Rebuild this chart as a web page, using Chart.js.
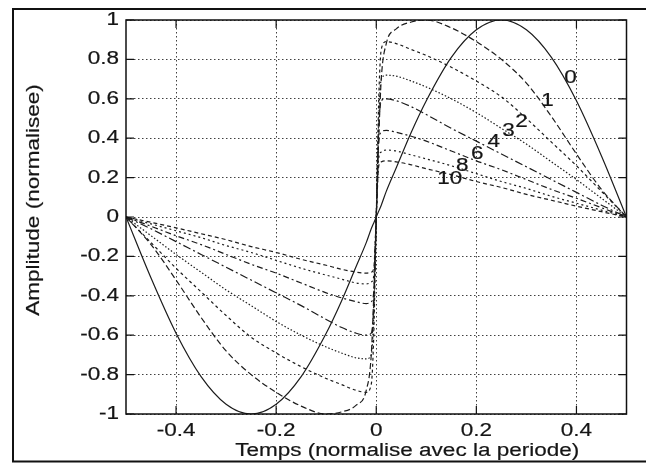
<!DOCTYPE html>
<html>
<head>
<meta charset="utf-8">
<script src="https://cdn.jsdelivr.net/npm/chart.js@4.4.0/dist/chart.umd.min.js"></script>
<style>
  html, body { margin: 0; padding: 0; background: #fff; }
</style>
</head>
<body>
<canvas id="c" width="648" height="463"></canvas>
<script>
// time, normalised with the period
var tGrid = [-0.5,-0.45,-0.4,-0.35,-0.3,-0.25,-0.2,-0.15,-0.1,-0.07,-0.04,-0.02,-0.01,-0.005,0,
             0.005,0.01,0.02,0.04,0.07,0.1,0.15,0.2,0.25,0.3,0.35,0.4,0.45,0.5];

// normalised amplitude, one array per curve
var curve0  = [0,-0.31,-0.59,-0.81,-0.95,-1,-0.95,-0.81,-0.59,-0.43,-0.25,-0.13,-0.06,-0.03,0,0.03,0.06,0.13,0.25,0.43,0.59,0.81,0.95,1,0.95,0.81,0.59,0.31,0];
var curve1  = [0,-0.14,-0.32,-0.51,-0.68,-0.8,-0.89,-0.96,-1,-0.99,-0.955,-0.88,-0.7,-0.4,0,0.4,0.7,0.88,0.955,0.99,1,0.96,0.89,0.8,0.68,0.51,0.32,0.14,0];
var curve2  = [0,-0.13,-0.26,-0.38,-0.5,-0.61,-0.69,-0.76,-0.82,-0.85,-0.88,-0.89,-0.85,-0.6,0,0.6,0.85,0.89,0.88,0.85,0.82,0.76,0.69,0.61,0.5,0.38,0.26,0.13,0];
var curve3  = [0,-0.095,-0.19,-0.28,-0.37,-0.45,-0.53,-0.6,-0.66,-0.69,-0.715,-0.72,-0.7,-0.5,0,0.5,0.7,0.72,0.715,0.69,0.66,0.6,0.53,0.45,0.37,0.28,0.19,0.095,0];
var curve4  = [0,-0.06,-0.125,-0.19,-0.255,-0.32,-0.385,-0.45,-0.52,-0.56,-0.59,-0.6,-0.59,-0.45,0,0.45,0.59,0.6,0.59,0.56,0.52,0.45,0.385,0.32,0.255,0.19,0.125,0.06,0];
var curve6  = [0,-0.047,-0.095,-0.14,-0.19,-0.24,-0.285,-0.335,-0.385,-0.41,-0.43,-0.44,-0.43,-0.38,0,0.38,0.43,0.44,0.43,0.41,0.385,0.335,0.285,0.24,0.19,0.14,0.095,0.047,0];
var curve8  = [0,-0.035,-0.07,-0.105,-0.145,-0.18,-0.22,-0.26,-0.295,-0.315,-0.335,-0.34,-0.33,-0.3,0,0.3,0.33,0.34,0.335,0.315,0.295,0.26,0.22,0.18,0.145,0.105,0.07,0.035,0];
var curve10 = [0,-0.027,-0.055,-0.085,-0.115,-0.15,-0.18,-0.215,-0.245,-0.265,-0.28,-0.285,-0.28,-0.26,0,0.26,0.28,0.285,0.28,0.265,0.245,0.215,0.18,0.15,0.115,0.085,0.055,0.027,0];

var curveNames = ["0","1","2","3","4","6","8","10"];
var curves = [curve0, curve1, curve2, curve3, curve4, curve6, curve8, curve10];
// where each curve number is written (t, amplitude)
var labelT = [0.388, 0.342, 0.290, 0.264, 0.235, 0.202, 0.172, 0.147];
var labelA = [0.707, 0.589, 0.484, 0.437, 0.381, 0.319, 0.260, 0.191];

var xTicks = [-0.4, -0.2, 0, 0.2, 0.4];
var yTicks = [-1, -0.8, -0.6, -0.4, -0.2, 0, 0.2, 0.4, 0.6, 0.8, 1];

var dashes = [[], [6,3], [3,3], [1.5,2], [8,3,2,3], [6,3,2,3], [2,3], [4,3]];

var FONT = '18px "Liberation Sans", Arial, sans-serif';
var INK = '#151515';

// scanned Helvetica looks wider than the screen font
function wideText(ctx, txt, x, y, align, rot) {
  ctx.save();
  ctx.translate(x, y);
  if (rot) ctx.rotate(rot);
  ctx.scale(1.25, 1);
  ctx.textAlign = align;
  ctx.textBaseline = 'middle';
  ctx.fillText(txt, 0, 0);
  ctx.lineWidth = 0.2;
  ctx.strokeText(txt, 0, 0);
  ctx.restore();
}

var matlabLook = {
  id: 'matlabLook',
  beforeDraw: function(chart) {
    var ctx = chart.ctx;
    ctx.save();
    ctx.fillStyle = '#fff';
    ctx.fillRect(0, 0, chart.width, chart.height);
    ctx.restore();
  },
  afterDraw: function(chart) {
    var ctx = chart.ctx, a = chart.chartArea;
    var xs = chart.scales.x, ys = chart.scales.y;
    ctx.save();
    // axes box
    ctx.strokeStyle = '#111';
    ctx.lineWidth = 1.5;
    ctx.strokeRect(a.left, a.top, a.right - a.left, a.bottom - a.top);
    // inner tick marks
    ctx.lineWidth = 1.2;
    ctx.beginPath();
    xTicks.forEach(function(v) {
      var px = xs.getPixelForValue(v);
      ctx.moveTo(px, a.bottom); ctx.lineTo(px, a.bottom - 8);
      ctx.moveTo(px, a.top); ctx.lineTo(px, a.top + 8);
    });
    yTicks.forEach(function(v) {
      var py = ys.getPixelForValue(v);
      ctx.moveTo(a.left, py); ctx.lineTo(a.left + 8, py);
      ctx.moveTo(a.right, py); ctx.lineTo(a.right - 8, py);
    });
    ctx.stroke();
    // outer figure frame (scan edge)
    ctx.lineWidth = 2;
    ctx.beginPath();
    ctx.moveTo(646, 9); ctx.lineTo(13, 9); ctx.lineTo(13, 461.5); ctx.lineTo(646, 461.5);
    ctx.stroke();

    // texts
    ctx.fillStyle = INK;
    ctx.strokeStyle = INK;
    ctx.font = FONT;
    xTicks.forEach(function(v) {
      wideText(ctx, String(v), xs.getPixelForValue(v), a.bottom + 17, 'center');
    });
    yTicks.forEach(function(v) {
      wideText(ctx, String(v), a.left - 7, ys.getPixelForValue(v), 'right');
    });
    wideText(ctx, 'Temps (normalise avec la periode)', (a.left + a.right) / 2 + 31, a.bottom + 37, 'center');
    wideText(ctx, 'Amplitude (normalisee)', 34, 200, 'center', -Math.PI / 2);
    curveNames.forEach(function(n, i) {
      wideText(ctx, n, xs.getPixelForValue(labelT[i]), ys.getPixelForValue(labelA[i]), 'center');
    });
    ctx.restore();
  }
};

var datasets = curves.map(function(c, i) {
  return {
    label: curveNames[i],
    data: tGrid.map(function(t, j) { return { x: t, y: c[j] }; }),
    borderColor: '#1c1c1c',
    borderWidth: 1.2,
    borderDash: dashes[i],
    pointRadius: 0,
    fill: false,
    cubicInterpolationMode: 'monotone'
  };
});

new Chart(document.getElementById('c'), {
  type: 'line',
  data: { datasets: datasets },
  options: {
    responsive: false,
    animation: false,
    layout: { padding: { left: 126, right: 21.5, top: 20, bottom: 49 } },
    plugins: { legend: { display: false }, tooltip: { enabled: false } },
    scales: {
      x: {
        type: 'linear', min: -0.5, max: 0.5,
        afterBuildTicks: function(s) { s.ticks = xTicks.map(function(v) { return { value: v }; }); },
        ticks: { display: false },
        grid: { color: 'rgba(0,0,0,0.75)', lineWidth: 1, drawTicks: false },
        border: { display: false, dash: [1.5, 2.5] }
      },
      y: {
        type: 'linear', min: -1, max: 1,
        afterBuildTicks: function(s) { s.ticks = yTicks.map(function(v) { return { value: v }; }); },
        ticks: { display: false },
        grid: { color: 'rgba(0,0,0,0.75)', lineWidth: 1, drawTicks: false },
        border: { display: false, dash: [1.5, 2.5] }
      }
    }
  },
  plugins: [matlabLook]
});
</script>
</body>
</html>
